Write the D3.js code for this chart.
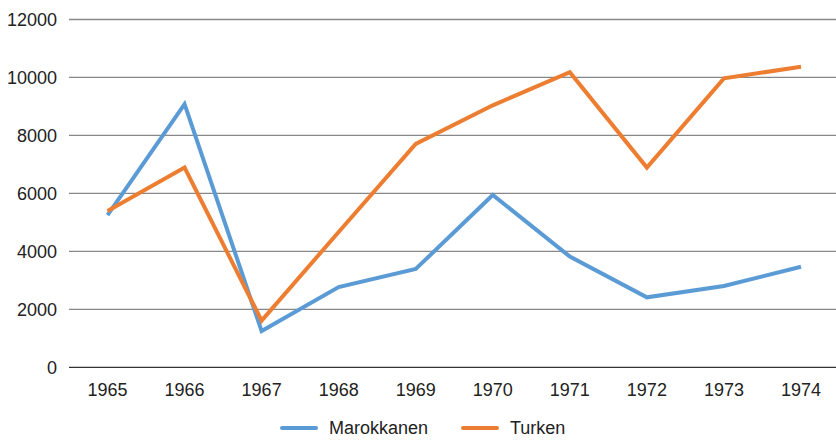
<!DOCTYPE html>
<html>
<head>
<meta charset="utf-8">
<script src="https://cdn.jsdelivr.net/npm/d3@7"></script>
<style>
  body { margin: 0; background: #fff; }
  svg text { font-family: "Liberation Sans", Arial, sans-serif; fill: #222; }
</style>
</head>
<body>
<svg id="chart" width="836" height="440"></svg>
<script>
var years = ["1965","1966","1967","1968","1969","1970","1971","1972","1973","1974"];
var marokkanen = [5250, 9080, 1250, 2770, 3390, 5945, 3820, 2415, 2805, 3470];
var turken = [5390, 6890, 1610, 4670, 7705, 9040, 10180, 6890, 9970, 10370];
var yTicks = [0, 2000, 4000, 6000, 8000, 10000, 12000];
var seriesNames = ["Marokkanen", "Turken"];
var seriesColors = ["#5b9bd5", "#ed7d31"];

var svg = d3.select("#chart");

// layout numbers
var plotLeft = 69, plotRight = 839.5, plotTop = 19.5, plotBottom = 367.3, fontSize = 18;

var x = d3.scaleBand().domain(years).range([plotLeft, plotRight]);
var y = d3.scaleLinear().domain([0, 12000]).range([plotBottom, plotTop]);

// gridlines
svg.append("g")
    .selectAll("line")
    .data(yTicks)
    .enter().append("line")
    .attr("x1", plotLeft)
    .attr("x2", 836)
    .attr("y1", function(d){ return y(d); })
    .attr("y2", function(d){ return y(d); })
    .style("stroke", function(d){ return d === 0 ? "#333" : "#888"; })
    .style("stroke-width", 1.3);

// y labels
svg.append("g")
    .selectAll("text")
    .data(yTicks)
    .enter().append("text")
    .attr("x", 57)
    .attr("y", function(d){ return y(d); })
    .attr("dy", "0.35em")
    .attr("text-anchor", "end")
    .attr("font-size", fontSize)
    .text(function(d){ return d; });

// x labels
svg.append("g")
    .selectAll("text")
    .data(years)
    .enter().append("text")
    .attr("x", function(d){ return x(d) + x.bandwidth()/2; })
    .attr("y", 390)
    .attr("dy", "0.35em")
    .attr("text-anchor", "middle")
    .attr("font-size", fontSize)
    .text(function(d){ return d; });

var line = d3.line()
    .x(function(d, i){ return x(years[i]) + x.bandwidth()/2; })
    .y(function(d){ return y(d); });

[marokkanen, turken].forEach(function(values, i){
    svg.append("path")
	.datum(values)
	.attr("d", line)
	.style("fill", "none")
	.style("stroke", seriesColors[i])
	.style("stroke-width", 4)
	.style("stroke-linejoin", "miter");
});

// legend
var legendX = [280, 461];
seriesNames.forEach(function(name, i){
    var g = svg.append("g").attr("transform", "translate(" + legendX[i] + ",428)");
    g.append("line")
	.attr("x1", 2).attr("x2", 36)
	.attr("y1", 0).attr("y2", 0)
	.style("stroke", seriesColors[i])
	.style("stroke-width", 4)
	.style("stroke-linecap", "round");
    g.append("text")
	.attr("x", 49)
	.attr("y", 0)
	.attr("dy", "0.35em")
	.attr("font-size", fontSize)
	.text(name);
});
</script>
</body>
</html>
